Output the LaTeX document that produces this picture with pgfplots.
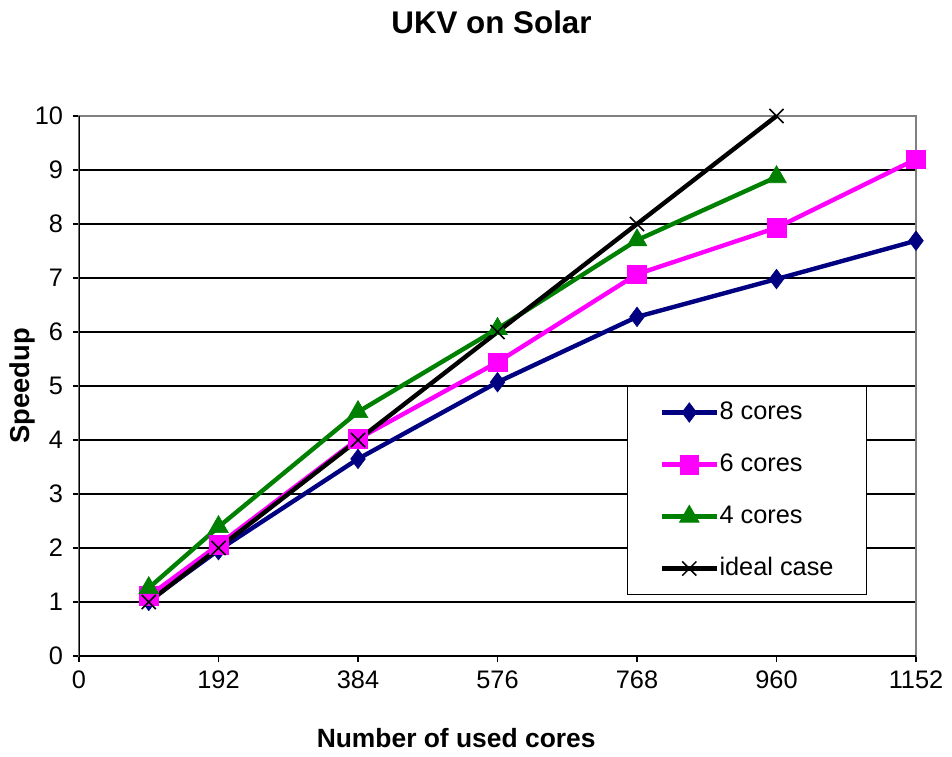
\documentclass[border=0pt]{standalone}
\usepackage{fontspec}
\setmainfont{Liberation Sans}
\usepackage{pgfplots}
\pgfplotsset{compat=1.18}
\definecolor{navyc}{RGB}{0,0,128}
\definecolor{magc}{RGB}{255,0,255}
\definecolor{greenc}{RGB}{0,128,0}
\begin{document}
\begin{tikzpicture}
\begin{axis}[
  name=ax,
  scale only axis,
  width=627.75pt, height=405pt,
  xmin=0, xmax=1152, ymin=0, ymax=10,
  xtick={0,192,384,576,768,960,1152},
  ytick={0,1,...,10},
  /pgf/number format/assume math mode=true,
  /pgf/number format/1000 sep={},
  ticklabel style={font=\fontsize{19}{22}\selectfont},
  xticklabel style={yshift=-3pt},
  yticklabel style={xshift=-4pt},
  tick align=outside,
  xtick pos=bottom, ytick pos=left,
  major tick length=4.5pt,
  tick style={black, line width=0.8pt},
  ymajorgrids,
  grid style={black, line width=0.8pt},
  axis line style={gray, line width=1pt},
  title={\bfseries UKV on Solar},
  title style={font=\fontsize{23.5}{28}\selectfont, at={(0.5,1)}, anchor=center, yshift=64.5pt, xshift=-4.5pt},
  xlabel={\bfseries Number of used cores},
  xlabel style={font=\fontsize{19.8}{24}\selectfont, at={(0.5,0)}, anchor=center, yshift=-61.5pt, xshift=-31pt},
  ylabel={\bfseries Speedup},
  ylabel style={font=\fontsize{20.5}{24}\selectfont, at={(0,0.5)}, anchor=center, yshift=42.75pt},
  legend style={at={(0.655,0.5)}, anchor=north west, draw=black, line width=0.8pt, fill=white,
    font=\fontsize{19}{22}\selectfont, inner xsep=24pt, inner ysep=10.5pt, row sep=21pt,
    nodes={text height=14pt, text depth=4pt, inner xsep=0.5pt, inner ysep=0pt}},
  legend cell align=left,
  legend image code/.code={%
    \draw[mark repeat=2,mark phase=2] plot coordinates {(0pt,0pt) (20.5pt,0pt) (41pt,0pt)};},
]
\addplot[navyc, line width=3.3pt, mark=diamond*, mark size=7.3pt, mark options={solid, line width=0.5pt, fill=navyc}]
  coordinates {(96,1.02) (192,1.96) (384,3.65) (576,5.07) (768,6.28) (960,6.98) (1152,7.69)};
\addlegendentry{8 cores}
\addplot[magc, line width=3.3pt, mark=square*, mark size=7pt, mark options={solid, line width=0.5pt, fill=magc}]
  coordinates {(96,1.11) (192,2.06) (384,4.02) (576,5.44) (768,7.07) (960,7.93) (1152,9.2)};
\addlegendentry{6 cores}
\addplot[greenc, line width=3.3pt, mark=triangle*, mark size=8.5pt, mark options={solid, line width=0.5pt, fill=greenc}]
  coordinates {(96,1.26) (192,2.39) (384,4.52) (576,6.06) (768,7.70) (960,8.87)};
\addlegendentry{4 cores}
\addplot[black, line width=3.3pt, mark=x, mark size=7.5pt, mark options={solid, line width=1.1pt}]
  coordinates {(96,1) (192,2) (384,4) (576,6) (768,8) (960,10)};
\addlegendentry{ideal case}
\draw[black, line width=1pt] (rel axis cs:0,1) -- (rel axis cs:0,0) -- (rel axis cs:1,0);
\coordinate (bl) at (rel axis cs:0,0);
\coordinate (tr) at (rel axis cs:1,1);
\end{axis}
\pgfresetboundingbox
\path ([shift={(-59.25pt,-75pt)}]bl) rectangle ([shift={(27pt,87pt)}]tr);
\end{tikzpicture}
\end{document}
